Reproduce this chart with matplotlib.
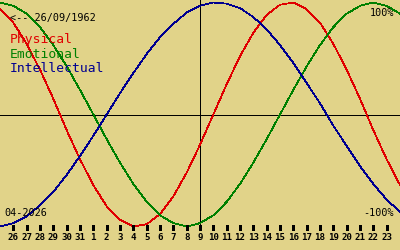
import matplotlib
matplotlib.use("Agg")
import matplotlib.pyplot as plt

# Day labels (26 Mar .. 23 Apr 2026)
day_labels = ["26", "27", "28", "29", "30", "31", "1", "2", "3", "4", "5", "6", "7", "8",
              "9", "10", "11", "12", "13", "14", "15", "16", "17", "18", "19", "20",
              "21", "22", "23"]
# curve sample days (index -1 .. 29)
days = list(range(-1, 30))
physical = [0.94, 0.82, 0.63, 0.40, 0.14, -0.14, -0.40, -0.63, -0.82, -0.94, -1.00,
            -0.98, -0.89, -0.73, -0.52, -0.27, 0.00, 0.27, 0.52, 0.73, 0.89, 0.98,
            1.00, 0.94, 0.82, 0.63, 0.40, 0.14, -0.14, -0.40, -0.63]
emotional = [1.00, 0.97, 0.90, 0.78, 0.62, 0.43, 0.22, 0.00, -0.22, -0.43, -0.62,
             -0.78, -0.90, -0.97, -1.00, -0.97, -0.90, -0.78, -0.62, -0.43, -0.22,
             0.00, 0.22, 0.43, 0.62, 0.78, 0.90, 0.97, 1.00, 0.97, 0.90]
intellectual = [-1.00, -0.97, -0.91, -0.81, -0.69, -0.54, -0.37, -0.19, 0.00, 0.19,
                0.37, 0.54, 0.69, 0.81, 0.91, 0.97, 1.00, 0.99, 0.95, 0.87, 0.76,
                0.62, 0.46, 0.28, 0.10, -0.10, -0.28, -0.46, -0.62, -0.76, -0.87]
today_index = 14
birth_label = "<-- 26/09/1962"
month_label = "04-2026"
series_names = ["Physical", "Emotional", "Intellectual"]

BG = "#E1D389"
RED = "#E00000"
GREEN = "#008000"
BLUE = "#000090"

W, H = 400, 250
fig = plt.figure(figsize=(4, 2.5), dpi=100, facecolor=BG)
ax = fig.add_axes([0, 20 / H, 1, 230 / H])
ax.set_facecolor(BG)
ctr, amp = 114.5, 112.0
ybot = (ctr - 230) / amp
ax.set_ylim(ybot, ctr / amp)
ax.set_xlim(-1, 29)
for s in ax.spines.values():
    s.set_visible(False)

lw = 0.72
ax.axhline(0, color="black", lw=lw, antialiased=False)
ax.axvline(today_index, color="black", lw=lw, antialiased=False)
for vals, col in zip([physical, emotional, intellectual], [RED, GREEN, BLUE]):
    ax.plot(days, vals, color=col, lw=0.55, antialiased=False)

# tick marks (5 px tall, at the bottom of the plot area)
tick_top = (ctr - 225) / amp
ax.vlines(range(len(day_labels)), ybot, tick_top, colors="black", linewidths=0.8,
          antialiaseds=False, clip_on=False, snap=True)

ax.set_yticks([])
ax.set_xticks(range(len(day_labels)))
ax.set_xticklabels(day_labels)
ax.tick_params(axis="x", length=0, pad=2.5)
for t in ax.get_xticklabels():
    t.set_family(["DejaVu Sans Mono"])
    t.set_fontweight("bold")
    t.set_fontsize(6.6)
    t.set_color("black")

mono = ["DejaVu Sans Mono"]
def ftext(x, y, s, **kw):
    fig.text(x / W, 1 - y / H, s, va="baseline", family=mono, **kw)

ftext(10, 20.7, birth_label, fontsize=7.3, color="black")
for i, (name, col) in enumerate(zip(series_names, [RED, GREEN, BLUE])):
    ftext(9.5, 42.5 + 15 * i, name, fontsize=9.4, color=col)
ftext(394, 16, "100%", fontsize=7.3, color="black", ha="right")
ftext(394, 215.7, "-100%", fontsize=7.3, color="black", ha="right")
ftext(4.5, 216, month_label, fontsize=7.3, color="black")

fig.savefig("out.png", dpi=100, facecolor=BG)
